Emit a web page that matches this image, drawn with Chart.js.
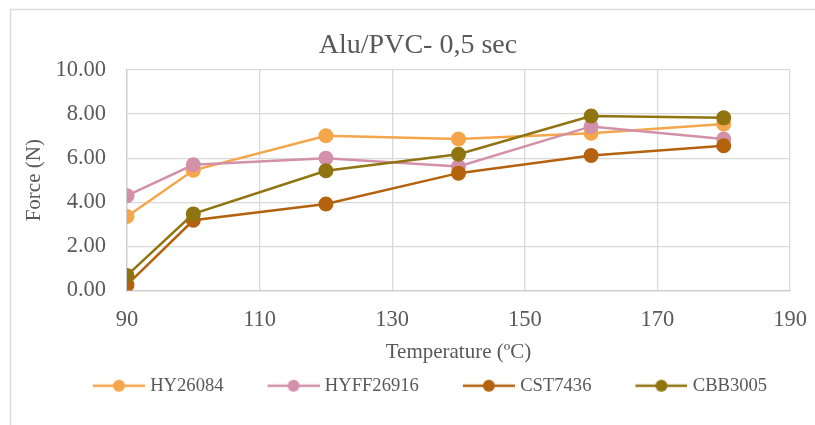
<!DOCTYPE html>
<html>
<head>
<meta charset="utf-8">
<script src="https://cdn.jsdelivr.net/npm/chart.js@4.4.1/dist/chart.umd.min.js"></script>
<style>
  html, body { margin: 0; padding: 0; background: #fff; }
  canvas { display: block; }
</style>
</head>
<body>
<canvas id="chart" width="815" height="425"></canvas>
<script>
// Peel force vs. sealing temperature, Alu/PVC at 0.5 s dwell
const temperatures = [90, 100, 120, 140, 160, 180];
const seriesNames = ['HY26084', 'HYFF26916', 'CST7436', 'CBB3005'];
const hy26084   = [3.35, 5.45, 7.02, 6.87, 7.13, 7.55];
const hyff26916 = [4.30, 5.70, 6.00, 5.62, 7.44, 6.87];
const cst7436   = [0.25, 3.18, 3.92, 5.32, 6.12, 6.56];
const cbb3005   = [0.68, 3.47, 5.43, 6.18, 7.91, 7.83];
const xTickValues = [90, 110, 130, 150, 170, 190];
const yTickValues = [0, 2, 4, 6, 8, 10];

const seriesValues = [hy26084, hyff26916, cst7436, cbb3005];
const seriesColors = ['#F5A54A', '#D391A9', '#B5620F', '#8F7410'];
const FONT = "'Liberation Serif', 'Times New Roman', serif";
const TEXT = '#595959';
const GRID = '#d9d9d9';

// Legend key: short line with a dot in the middle, sitting right of the key box centre
function legendKey(color) {
  const c = document.createElement('canvas');
  c.width = 80; c.height = 14;
  const g = c.getContext('2d');
  g.strokeStyle = color; g.lineWidth = 2.5;
  g.beginPath(); g.moveTo(28, 7); g.lineTo(80, 7); g.stroke();
  g.fillStyle = color;
  g.beginPath(); g.arc(54, 7, 6, 0, Math.PI * 2); g.fill();
  return c;
}
const legendKeys = seriesColors.map(legendKey);

const datasets = seriesNames.map((name, i) => ({
  label: name,
  data: temperatures.map((t, k) => ({ x: t, y: seriesValues[i][k] })),
  borderColor: seriesColors[i],
  backgroundColor: seriesColors[i],
  pointBackgroundColor: seriesColors[i],
  pointBorderColor: seriesColors[i],
  borderWidth: 2.5,
  pointRadius: 7.5,
  pointBorderWidth: 0,
  pointHoverRadius: 7.5,
  tension: 0,
  order: seriesNames.length - 1 - i
}));

// White background and the light outer frame
const framePlugin = {
  id: 'frame',
  beforeDraw(chart) {
    const { ctx, width, height } = chart;
    ctx.save();
    ctx.fillStyle = '#ffffff';
    ctx.fillRect(0, 0, width, height);
    ctx.strokeStyle = '#dcdcdc';
    ctx.lineWidth = 1.5;
    ctx.beginPath();
    ctx.moveTo(10.5, height);
    ctx.lineTo(10.5, 9.5);
    ctx.lineTo(width, 9.5);
    ctx.stroke();
    ctx.restore();
  }
};

new Chart(document.getElementById('chart'), {
  type: 'line',
  data: { datasets },
  plugins: [framePlugin],
  options: {
    responsive: false,
    animation: false,
    devicePixelRatio: 1,
    layout: { padding: { top: 10, left: 46, right: 25, bottom: 20 } },
    plugins: {
      tooltip: { enabled: false },
      title: {
        display: true,
        text: 'Alu/PVC- 0,5 sec',
        color: TEXT,
        font: { family: FONT, size: 28, weight: 'normal' },
        padding: { top: 18.7, bottom: 7.7 }
      },
      legend: {
        position: 'bottom',
        labels: {
          usePointStyle: true,
          pointStyleWidth: 72,
          padding: 20,
          color: TEXT,
          font: { family: FONT, size: 18.6 },
          sort: (a, b) => a.datasetIndex - b.datasetIndex,
          generateLabels(chart) {
            const items = Chart.defaults.plugins.legend.labels.generateLabels(chart);
            items.forEach(it => {
              it.pointStyle = legendKeys[it.datasetIndex];
              it.fontColor = TEXT;
            });
            return items;
          }
        }
      }
    },
    scales: {
      x: {
        type: 'linear',
        position: 'bottom',
        min: 90,
        max: 190,
        afterBuildTicks(scale) { scale.ticks = xTickValues.map(v => ({ value: v })); },
        afterFit(scale) {
          scale.height = 66;
          scale.paddingLeft = 0;
          scale.paddingRight = 0;
        },
        grid: { color: GRID, lineWidth: 1.3, drawTicks: false },
        border: { color: '#cccccc', width: 1.3 },
        ticks: {
          color: TEXT,
          padding: 16,
          font: { family: FONT, size: 22.5 }
        },
        title: {
          display: true,
          text: 'Temperature (ºC)',
          color: TEXT,
          font: { family: FONT, size: 21 },
          padding: { top: 0, bottom: -8.6 }
        }
      },
      y: {
        min: 0,
        max: 10,
        afterBuildTicks(scale) { scale.ticks = yTickValues.map(v => ({ value: v })); },
        afterFit(scale) { scale.width = 81; },
        grid: { color: GRID, lineWidth: 1.3, drawTicks: false },
        border: { color: '#cccccc', width: 1.3 },
        ticks: {
          color: TEXT,
          padding: 21,
          font: { family: FONT, size: 22.5 },
          callback: v => Number(v).toFixed(2)
        },
        title: {
          display: true,
          text: 'Force (N)',
          color: TEXT,
          font: { family: FONT, size: 21 },
          padding: { top: -24.1, bottom: 0 }
        }
      }
    }
  }
});
</script>
</body>
</html>
